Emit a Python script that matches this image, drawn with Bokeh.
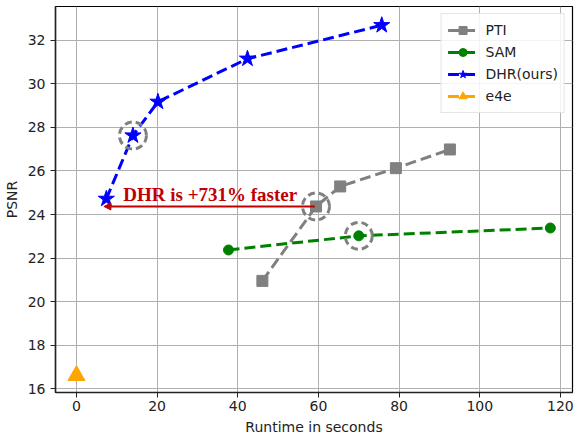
from bokeh.plotting import figure
from bokeh.models import FixedTicker, Range1d, Arrow, NormalHead, Label, Legend
from bokeh.embed import file_html
from bokeh.resources import INLINE

# Data
pti_x = [46.1, 59.4, 65.4, 79.2, 92.6]
pti_y = [20.95, 24.37, 25.29, 26.13, 26.99]
sam_x = [37.7, 70.0, 117.5]
sam_y = [22.37, 23.02, 23.38]
dhr_x = [7.4, 14.0, 20.2, 42.4, 75.7]
dhr_y = [24.72, 27.63, 29.18, 31.16, 32.7]
e4e_x = [0.0]
e4e_y = [16.6]
x_ticks = [0, 20, 40, 60, 80, 100, 120]
y_ticks = [16, 18, 20, 22, 24, 26, 28, 30, 32]

FONT = "DejaVu Sans"

p = figure(width=574, height=438, output_backend="svg", toolbar_location=None,
           x_range=Range1d(-5.2, 123.0), y_range=Range1d(15.82, 33.56),
           min_border_left=54, min_border_right=2, min_border_top=6, min_border_bottom=46)
p.background_fill_color = "white"
p.border_fill_color = "white"
p.outline_line_color = "black"
p.outline_line_width = 1.2

for ax in (p.xaxis[0], p.yaxis[0]):
    ax.major_label_text_font = FONT
    ax.major_label_text_font_size = "14px"
    ax.major_label_text_color = "#222222"
    ax.axis_label_text_font = FONT
    ax.axis_label_text_font_size = "14px"
    ax.axis_label_text_font_style = "normal"
    ax.axis_label_text_color = "#222222"
    ax.minor_tick_line_color = None
    ax.major_tick_in = 0
    ax.major_tick_out = 5
    ax.major_tick_line_color = "#222222"
    ax.axis_line_color = "#222222"
    ax.axis_line_width = 1.5
p.xaxis[0].ticker = FixedTicker(ticks=x_ticks)
p.yaxis[0].ticker = FixedTicker(ticks=y_ticks)
p.xaxis[0].axis_label = "Runtime in seconds"
p.yaxis[0].axis_label = "PSNR"
p.xaxis[0].major_label_standoff = 3
p.xaxis[0].axis_label_standoff = 5
p.yaxis[0].major_label_standoff = 5
p.yaxis[0].axis_label_standoff = 5

p.xgrid.grid_line_color = "#b0b0b0"
p.ygrid.grid_line_color = "#b0b0b0"
p.xgrid.grid_line_width = 1
p.ygrid.grid_line_width = 1

DASH = "11 5"
series = [
    ("PTI", pti_x, pti_y, "#808080", "square", 11),
    ("SAM", sam_x, sam_y, "#008000", "circle", 10),
    ("DHR(ours)", dhr_x, dhr_y, "#0000ff", "star", 17),
    ("e4e", e4e_x, e4e_y, "#ffa500", "triangle", 17),
]
items = []
for name, xs, ys, col, mk, sz in series:
    r1 = p.line(xs, ys, line_color=col, line_width=3, line_dash=DASH)
    r2 = p.scatter(xs, ys, marker=mk, size=sz, fill_color=col, line_color=col)
    items.append((name, [r1, r2]))

# Highlight circles
hx = [dhr_x[1], pti_x[1], sam_x[1]]
hy = [dhr_y[1], pti_y[1], sam_y[1]]
p.scatter(hx, hy, marker="circle", size=27, fill_color=None,
          line_color="#808080", line_width=3, line_dash="7 4")

# Arrow annotation
p.add_layout(Arrow(end=NormalHead(size=7, fill_color="#c00000", line_color="#c00000"),
                   x_start=pti_x[1] - 0.3, y_start=pti_y[1],
                   x_end=dhr_x[0] - 0.6, y_end=pti_y[1],
                   line_color="#c00000", line_width=2))
p.add_layout(Label(x=11.6, y=24.92, text="DHR is +731% faster",
                   text_font="Liberation Serif", text_font_style="bold",
                   text_font_size="19px", text_color="#c00000",
                   text_baseline="alphabetic"))

legend = Legend(items=items, location="top_right")
legend.label_text_font = FONT
legend.label_text_font_size = "14px"
legend.label_text_color = "#222222"
legend.glyph_width = 30
legend.glyph_height = 20
legend.spacing = 2
legend.padding = 6
legend.margin = 7
legend.label_standoff = 8
legend.border_line_color = "#cccccc"
legend.border_line_width = 1
legend.background_fill_alpha = 0.85
p.add_layout(legend)

open("out.html", "w").write(file_html(p, INLINE))
